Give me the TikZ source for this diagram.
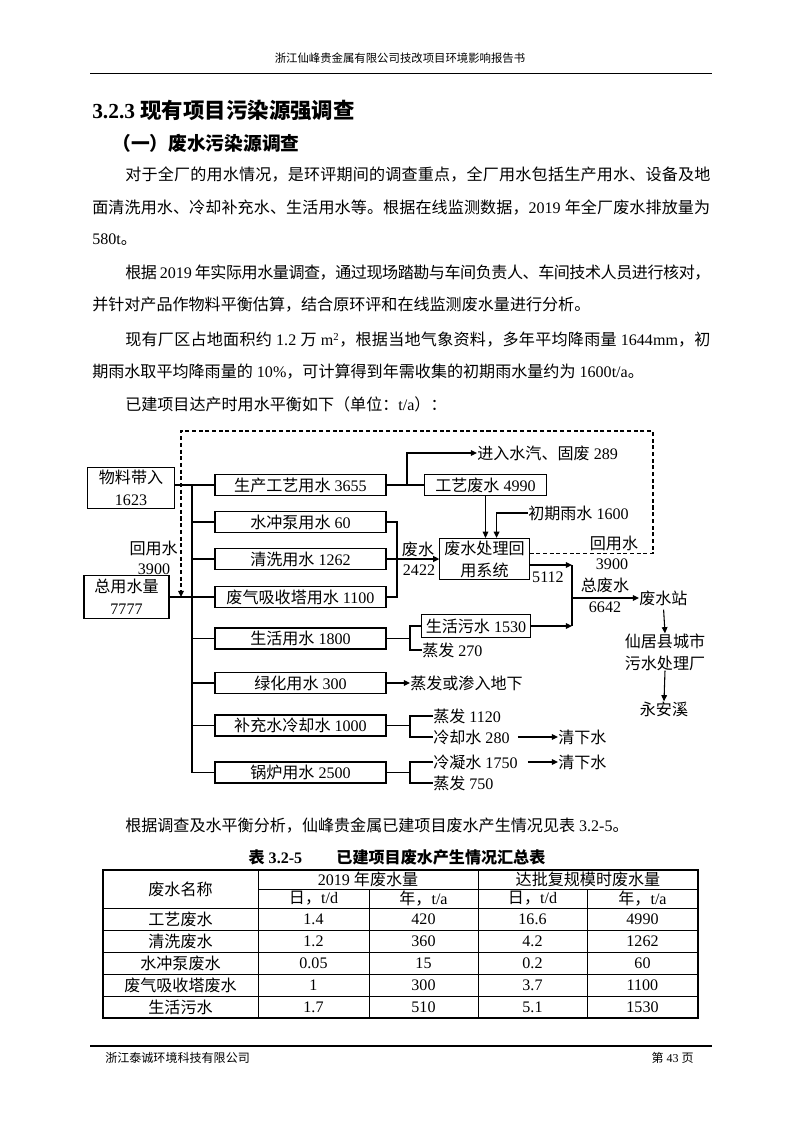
\documentclass[tikz,border=0pt]{standalone}
\usepackage{fontspec}
\setmainfont{Liberation Serif}
\newfontfamily\cjk{Noto Sans CJK SC}
\usetikzlibrary{positioning,arrows.meta}

% Chinese characters get the CJK face, everything else stays in the serif
\XeTeXinterchartokenstate=1
\newXeTeXintercharclass\hanclass
\newcount\hanchar
\newcommand\markhan[2]{\hanchar=#1\relax
  \loop\XeTeXcharclass\hanchar=\hanclass
    \advance\hanchar by 1
  \ifnum\hanchar<#2\repeat}
\markhan{"3000}{"3040}
\markhan{"4E00}{"A000}
\markhan{"FF00}{"FFF0}
\XeTeXinterchartoks 0 \hanclass = {\cjk}
\XeTeXinterchartoks 4095 \hanclass = {\cjk}
\XeTeXinterchartoks \hanclass 0 = {\rmfamily}
\XeTeXinterchartoks \hanclass 4095 = {\rmfamily}
\XeTeXinterchartoks \hanclass \hanclass = {\hskip 0pt plus 2pt minus 0.4pt}

\begin{document}
\begin{tikzpicture}[x=0.2625mm, y=-0.2625mm]
    \tikzstyle{usebox} = [rectangle, draw=black, line width=0.8pt, inner sep=0pt,
      minimum width=44.9mm, minimum height=5.5mm, font=\fontsize{12}{16.4}\selectfont]
    \tikzstyle{word} = [inner sep=0pt, font=\fontsize{12}{16.4}\selectfont]
    \tikzstyle{pipe} = [line width=0.8pt]
    \tikzstyle{flow} = [line width=0.8pt, -{Triangle[length=4.6pt,width=4.2pt]}]
    \tikzstyle{recycle} = [line width=0.8pt, dash pattern=on 3pt off 2pt,
      -{Triangle[length=4.6pt,width=4.2pt]}]
    \tikzstyle{tabrule} = [line width=0.5pt]
    \tikzstyle{tabframe} = [line width=1.1pt]

    \useasboundingbox (0,0) rectangle (800,1131);
    \fill[white] (0,0) rectangle (800,1131);

    % page header
    \node (head) [word, font=\fontsize{8.5}{10}\selectfont] at (400,58) {浙江仙峰贵金属有限公司技改项目环境影响报告书};
    \draw[line width=0.7pt] (90,73) -- (712,73);

    % text above the diagram
    \node (sec) [word, anchor=west, font=\bfseries\fontsize{16}{18}\selectfont] at (92,110) {3.2.3 现有项目污染源强调查};
    \node (sub) [word, anchor=west, font=\bfseries\fontsize{14}{16}\selectfont] at (112,143) {（一）废水污染源调查};
    \node (p1a) [word, anchor=west] at (125,175) {\makebox[153.6mm][s]{对于全厂的用水情况，是环评期间的调查重点，全厂用水包括生产用水、设备及地}};
    \node (p1b) [word, anchor=west] at (92,208) {\makebox[162.2mm][s]{面清洗用水、冷却补充水、生活用水等。根据在线监测数据，2019 年全厂废水排放量为}};
    \node (p1c) [word, anchor=west] at (92,240) {580t。};
    \node (p2a) [word, anchor=west] at (125,273) {\makebox[153.6mm][s]{根据 2019 年实际用水量调查，通过现场踏勘与车间负责人、车间技术人员进行核对，}};
    \node (p2b) [word, anchor=west] at (92,305) {并针对产品作物料平衡估算，结合原环评和在线监测废水量进行分析。};
    \node (p3a) [word, anchor=west] at (125,340) {\makebox[153.6mm][s]{现有厂区占地面积约 1.2 万 m\textsuperscript{2}，根据当地气象资料，多年平均降雨量 1644mm，初}};
    \node (p3b) [word, anchor=west] at (92,372) {期雨水取平均降雨量的 10\%，可计算得到年需收集的初期雨水量约为 1600t/a。};
    \node (p4) [word, anchor=west] at (125,404) {已建项目达产时用水平衡如下（单位：t/a）：};

    % water balance: sources and users
    \node (wuliao) [usebox, minimum width=22.6mm, minimum height=11mm, align=center] at (131,488) {物料带入\\1623};
    \node (zongshui) [usebox, minimum width=22.3mm, minimum height=11.3mm, align=center] at (126.5,597) {总用水量\\7777};
    \node (shengchan) [usebox] at (300.5,485) {生产工艺用水 3655};
    \node (shuichong) [usebox] at (300.5,522) {水冲泵用水 60};
    \node (qingxi) [usebox] at (300.5,559) {清洗用水 1262};
    \node (feiqi) [usebox] at (300.5,597) {废气吸收塔用水 1100};
    \node (shenghuo) [usebox] at (300.5,638.5) {生活用水 1800};
    \node (lvhua) [usebox] at (300.5,683) {绿化用水 300};
    \node (buchong) [usebox] at (300.5,725.5) {补充水冷却水 1000};
    \node (guolu) [usebox] at (300.5,772.5) {锅炉用水 2500};

    % waste water side
    \node (gongyi) [usebox, minimum width=31.8mm] at (485.5,485) {工艺废水 4990};
    \node (chuli) [usebox, minimum width=23.4mm, minimum height=10.8mm, align=center] at (484.5,559) {废水处理回\\用系统};
    \node (wushui) [usebox, minimum width=28.4mm, minimum height=5.8mm] at (476,626) {生活污水 1530};

    \node (jinru) [word, anchor=west] at (477,453) {进入水汽、固废 289};
    \node (chuqi) [word, anchor=west] at (528,513) {初期雨水 1600};
    \node (fs) [word] at (418,549) {废水};
    \node (fsn) [word] at (419,570) {2422};
    \node (outn) [word] at (548,577) {5112};
    \node (hy) [word] at (614,543) {回用水};
    \node (hyn) [word] at (612,564) {3900};
    \node (hyl) [word, anchor=east] at (178,548) {回用水};
    \node (hyln) [word] at (154,569) {3900};
    \node (zfs) [word] at (605,585) {总废水};
    \node (zfsn) [word] at (605,607) {6642};
    \node (zhan) [word, anchor=west] at (639,598) {废水站};
    \node (xianju) [word, align=center] at (665,652) {仙居县城市\\污水处理厂};
    \node (yongan) [word] at (664,709) {永安溪};
    \node (zf270) [word, anchor=west] at (422,650) {蒸发 270};
    \node (shen) [word, anchor=west] at (410,683) {蒸发或渗入地下};
    \node (zf1120) [word, anchor=west] at (433,716) {蒸发 1120};
    \node (lqs) [word, anchor=west] at (433,737) {冷却水 280};
    \node (qx1) [word, anchor=west] at (558,737) {清下水};
    \node (lns) [word, anchor=west] at (433,762) {冷凝水 1750};
    \node (qx2) [word, anchor=west] at (558,762) {清下水};
    \node (zf750) [word, anchor=west] at (433,783) {蒸发 750};

    \coordinate (trunk) at (192,485);
    \coordinate (split) at (407,485);
    \coordinate (collect) at (397,559);
    \coordinate (merge) at (572,565);
    \coordinate (rtop) at (653,431);
    \coordinate (drop) at (181,597);
    \coordinate (fork1) at (410,638.5);
    \coordinate (fork2) at (410,725.5);
    \coordinate (fork3) at (410,772.5);

    \draw[pipe] (wuliao.east |- shengchan) -- (shengchan.west);
    \draw[pipe] (trunk) -- (trunk |- guolu);
    \foreach \b in {shuichong,qingxi,shenghuo,lvhua,buchong,guolu}
      \draw[pipe] (trunk |- \b) -- (\b.west);
    \draw[pipe] (zongshui.east) -- (feiqi.west);
    \draw[recycle] ([yshift=1.45mm]chuli.east) -| (rtop) -| (drop);
    \draw[pipe] (shengchan.east) -- (gongyi.west);
    \draw[flow] (split) |- (jinru.west);
    \draw[flow] (gongyi.south) -- (gongyi.south |- chuli.north);
    \draw[flow] (chuqi.west) -| ([xshift=2.9mm]gongyi.south |- chuli.north);
    \draw[pipe] (shuichong.east) -| (collect |- feiqi) -- (feiqi.east);
    \draw[flow, line width=1.3pt] (qingxi.east) -- (chuli.west);
    \draw[flow] (chuli.east |- merge) -- (merge);
    \draw[pipe] (merge) -- (merge |- wushui);
    \draw[flow] (wushui.east) -- (merge |- wushui);
    \draw[flow] (merge |- zhan) -- (zhan.west);
    \draw[flow, shorten <=1mm] (zhan.south) -- (xianju.north);
    \draw[flow] (xianju.south) -- (yongan.north);
    \draw[pipe] (shenghuo.east) -- (fork1);
    \draw[pipe] (wushui.west) -| (fork1) |- (zf270.west);
    \draw[flow] (lvhua.east) -- (shen.west);
    \draw[pipe] (buchong.east) -- (fork2);
    \draw[pipe] (zf1120.west) -| (fork2) |- (lqs.west);
    \draw[flow] ([xshift=2.1mm]lqs.east) -- (qx1.west);
    \draw[pipe] (guolu.east) -- (fork3);
    \draw[pipe] (lns.west) -| (fork3) |- (zf750.west);
    \draw[flow] ([xshift=2.6mm]lns.east) -- (qx2.west);

    % text and table below the diagram
    \node (p5) [word, anchor=west] at (125,826) {根据调查及水平衡分析，仙峰贵金属已建项目废水产生情况见表 3.2-5。};
    \node (cap) [word, font=\bfseries\fontsize{12}{14}\selectfont] at (397,857) {表 3.2-5\hspace{9mm}已建项目废水产生情况汇总表};

    \draw[tabframe] (103,870) rectangle (698,1018);
    \draw[tabrule] (258,870) -- (258,1018);
    \draw[tabrule] (478,870) -- (478,1018);
    \draw[tabrule] (369,889) -- (369,1018);
    \draw[tabrule] (587,889) -- (587,1018);
    \draw[tabrule] (258,889) -- (698,889);
    \foreach \r in {908,930,952,974,996}
      \draw[tabrule] (103,\r) -- (698,\r);

    \node (hname) [word] at (180.5,889) {废水名称};
    \node (h2019) [word] at (368,879.5) {2019 年废水量};
    \node (hfull) [word] at (588,879.5) {达批复规模时废水量};
    \node (hd1) [word] at (313.5,898.5) {日，t/d};
    \node (hy1) [word] at (423.5,898.5) {年，t/a};
    \node (hd2) [word] at (532.5,898.5) {日，t/d};
    \node (hy2) [word] at (642.5,898.5) {年，t/a};

    \foreach \wname/\dayA/\yearA/\dayB/\yearB [count=\i] in {工艺废水/1.4/420/16.6/4990,
        清洗废水/1.2/360/4.2/1262, 水冲泵废水/0.05/15/0.2/60,
        废气吸收塔废水/1/300/3.7/1100, 生活污水/1.7/510/5.1/1530} {
      \node (row\i) [word] at (180.5,{897+22*\i}) {\wname};
      \node (row\i-a) [word] at (313.5,{897+22*\i}) {\dayA};
      \node (row\i-b) [word] at (423.5,{897+22*\i}) {\yearA};
      \node (row\i-c) [word] at (532.5,{897+22*\i}) {\dayB};
      \node (row\i-d) [word] at (642.5,{897+22*\i}) {\yearB};
    }

    % page footer
    \draw[line width=1.1pt] (90,1046) -- (712,1046);
    \node (foot) [word, anchor=west, font=\fontsize{9}{11}\selectfont] at (105,1058) {浙江泰诚环境科技有限公司};
    \node (pageno) [word, anchor=east, font=\fontsize{9}{11}\selectfont] at (694,1058) {第 43 页};
\end{tikzpicture}
\end{document}
